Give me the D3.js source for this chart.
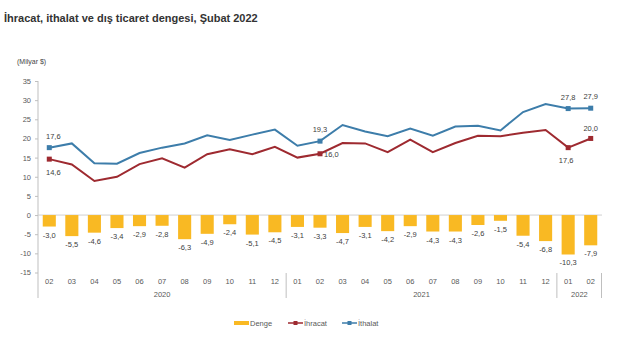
<!DOCTYPE html>
<html>
<head>
<meta charset="utf-8">
<script src="https://cdn.jsdelivr.net/npm/d3@7"></script>
<style>
  body { margin: 0; background: #fff; }
  svg { font-family: "Liberation Sans", Arial, sans-serif; }
</style>
</head>
<body>
<script>
const width = 640;
const height = 339;

// months 02/2020 .. 02/2022
const months = ["02","03","04","05","06","07","08","09","10","11","12",
  "01","02","03","04","05","06","07","08","09","10","11","12",
  "01","02"];
const years = [
  { label: "2020", from: 0, to: 10 },
  { label: "2021", from: 11, to: 22 },
  { label: "2022", from: 23, to: 24 }
];
const denge = [-3.0,-5.5,-4.6,-3.4,-2.9,-2.8,-6.3,-4.9,-2.4,-5.1,-4.5,
  -3.1,-3.3,-4.7,-3.1,-4.2,-2.9,-4.3,-4.3,-2.6,-1.5,-5.4,-6.8,
  -10.3,-7.9];
const ihracat = [14.6,13.2,8.9,10.0,13.3,14.8,12.4,15.9,17.2,15.9,17.8,
  15.0,16.0,18.8,18.7,16.4,19.7,16.4,18.8,20.7,20.6,21.5,22.2,
  17.6,20.0];
const ithalat = [17.6,18.7,13.5,13.4,16.2,17.6,18.7,20.8,19.6,21.0,22.3,
  18.1,19.3,23.5,21.8,20.6,22.6,20.7,23.1,23.3,22.1,26.9,29.0,
  27.8,27.9];
const yTicks = [35,30,25,20,15,10,5,0,-5,-10,-15];

const colBar = "#F9B923", colRed = "#9E2A30", colBlue = "#3D7DAA";
const textCol = "#595959";

// comma decimals, plain hyphen minus
const fmt = v => v.toFixed(1).replace(".", ",");

const svg = d3.select("body").append("svg")
  .attr("width", width).attr("height", height);

svg.append("text").attr("x", 4).attr("y", 22)
  .attr("font-size", 11).attr("font-weight", "bold").attr("fill", "#333")
  .text("İhracat, ithalat ve dış ticaret dengesi, Şubat 2022");

svg.append("text").attr("x", 17).attr("y", 64)
  .attr("font-size", 7).attr("fill", "#444").text("(Milyar $)");

const x = d3.scaleBand().domain(d3.range(months.length))
  .range([38, 602]).paddingInner(0.42).paddingOuter(0.21);
const y = d3.scaleLinear().domain([-15, 35]).range([272.5, 81]);
const cx = i => x(i) + x.bandwidth() / 2;

// y axis
const yAxis = svg.append("g").attr("transform", "translate(38,0)")
  .call(d3.axisLeft(y).tickValues(yTicks).tickFormat(d => String(d))
    .tickSize(3).tickPadding(4));
yAxis.select(".domain").remove();
yAxis.selectAll(".tick line").attr("stroke", "#bfbfbf");
yAxis.selectAll("text").attr("font-size", 7.5).attr("fill", textCol)
  .attr("font-family", "Liberation Sans, Arial, sans-serif");
svg.append("line").attr("x1", 38).attr("x2", 38).attr("y1", y(35)).attr("y2", 298)
  .attr("stroke", "#bfbfbf");

// zero line
svg.append("line").attr("x1", 38).attr("x2", 602).attr("y1", y(0)).attr("y2", y(0))
  .attr("stroke", "#d0d0d0");

// bars
svg.append("g").selectAll("rect").data(denge).join("rect")
  .attr("x", (d, i) => x(i)).attr("width", x.bandwidth())
  .attr("y", y(0)).attr("height", d => y(d) - y(0))
  .attr("fill", colBar);

svg.append("g").selectAll("text").data(denge).join("text")
  .attr("x", (d, i) => cx(i)).attr("y", d => y(d) + 11)
  .attr("text-anchor", "middle").attr("font-size", 7.5).attr("fill", "#404040")
  .text(d => fmt(d));

// lines
const line = d3.line().x((d, i) => cx(i)).y(d => y(d));
function series(vals, col) {
  svg.append("path").datum(vals).attr("d", line)
    .attr("fill", "none").attr("stroke", col).attr("stroke-width", 2);
}
series(ithalat, colBlue);
series(ihracat, colRed);

const marked = [0, 12, 23, 24];
function markers(vals, col, offs) {
  svg.append("g").selectAll("rect").data(marked).join("rect")
    .attr("x", i => cx(i) - 2.5).attr("y", i => y(vals[i]) - 2.5)
    .attr("width", 5).attr("height", 5).attr("fill", col);
  svg.append("g").selectAll("text").data(marked).join("text")
    .attr("x", (i, k) => cx(i) + offs[k][0]).attr("y", (i, k) => y(vals[i]) + offs[k][1])
    .attr("text-anchor", (i, k) => offs[k][2] || "middle")
    .attr("font-size", 7.5).attr("fill", "#404040")
    .text(i => fmt(vals[i]));
}
markers(ithalat, colBlue, [[4, -9], [0, -9], [0, -9], [0, -9]]);
markers(ihracat, colRed, [[4, 16], [4, 3, "start"], [-2, 15], [0, -7]]);

// category labels
svg.append("g").selectAll("text").data(months).join("text")
  .attr("x", (d, i) => cx(i)).attr("y", 284)
  .attr("text-anchor", "middle").attr("font-size", 7.5).attr("fill", textCol)
  .text(d => d);

years.forEach(yr => {
  svg.append("text").attr("x", (cx(yr.from) + cx(yr.to)) / 2).attr("y", 297)
    .attr("text-anchor", "middle").attr("font-size", 7.5).attr("fill", textCol)
    .text(yr.label);
  if (yr.from > 0) {
    const sx = x(yr.from) - x.step() * x.paddingInner() / 2;
    svg.append("line").attr("x1", sx).attr("x2", sx).attr("y1", 273).attr("y2", 298)
      .attr("stroke", "#bfbfbf");
  }
});
svg.append("line").attr("x1", 601.5).attr("x2", 601.5).attr("y1", 273).attr("y2", 298)
  .attr("stroke", "#bfbfbf");

// legend
const legend = [
  { name: "Denge", col: colBar, x: 234, w: 4, mark: false },
  { name: "İhracat", col: colRed, x: 288, w: 1.5, mark: true },
  { name: "İthalat", col: colBlue, x: 342, w: 1.5, mark: true }
];
const lg = svg.append("g").selectAll("g").data(legend).join("g")
  .attr("transform", d => `translate(${d.x},323)`);
lg.append("line").attr("x1", 0).attr("x2", 15).attr("stroke", d => d.col)
  .attr("stroke-width", d => d.w);
lg.filter(d => d.mark).append("rect").attr("x", 5.5).attr("y", -2)
  .attr("width", 4).attr("height", 4).attr("fill", d => d.col);
lg.append("text").attr("x", 16).attr("y", 3).attr("font-size", 7.5)
  .attr("fill", textCol).text(d => d.name);
</script>
</body>
</html>
